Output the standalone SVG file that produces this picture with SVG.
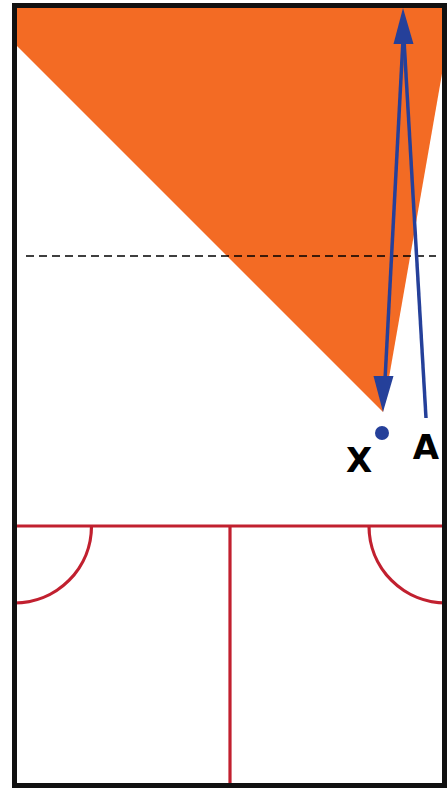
<svg xmlns="http://www.w3.org/2000/svg" width="448" height="788" viewBox="0 0 448 788">
<style>
.red{stroke:#c1202f;stroke-width:3.2;fill:none}
.blue{stroke:#25409a;stroke-width:3.5;fill:none}
.lbl{font-family:"DejaVu Sans",sans-serif;font-weight:bold;font-size:34px;fill:#000}
</style>
<rect x="0" y="0" width="448" height="788" fill="#fff"/>
<g id="zone">
<polygon points="17,8 443,8 443,68 383,412 17,46" fill="#f36b24"/>
</g>
<line x1="26" y1="256" x2="436" y2="256" stroke="#000" stroke-width="1.3" stroke-dasharray="8,5"/>
<g id="court">
<line class="red" x1="17" y1="526" x2="443" y2="526"/>
<line class="red" x1="230" y1="526" x2="230" y2="784"/>
<path class="red" d="M91.5,526 A77,77 0 0 1 14.5,603"/>
<path class="red" d="M369,526 A77,77 0 0 0 446,603"/>
</g>
<g id="connectors">
<line class="blue" x1="426" y1="418" x2="404" y2="40"/>
<polygon points="403,8 413.5,44 393.5,44" fill="#25409a"/>
<line class="blue" x1="403" y1="40" x2="385" y2="380"/>
<polygon points="383,412 373.5,376 393.5,376" fill="#25409a"/>
</g>
<g id="X">
<circle cx="382" cy="433" r="7" fill="#25409a"/>
<text class="lbl" x="359" y="472" text-anchor="middle">X</text>
</g>
<g id="A">
<text class="lbl" x="426" y="459" text-anchor="middle">A</text>
</g>
<rect x="14.5" y="5.5" width="430" height="780" fill="none" stroke="#111" stroke-width="5"/>
</svg>
